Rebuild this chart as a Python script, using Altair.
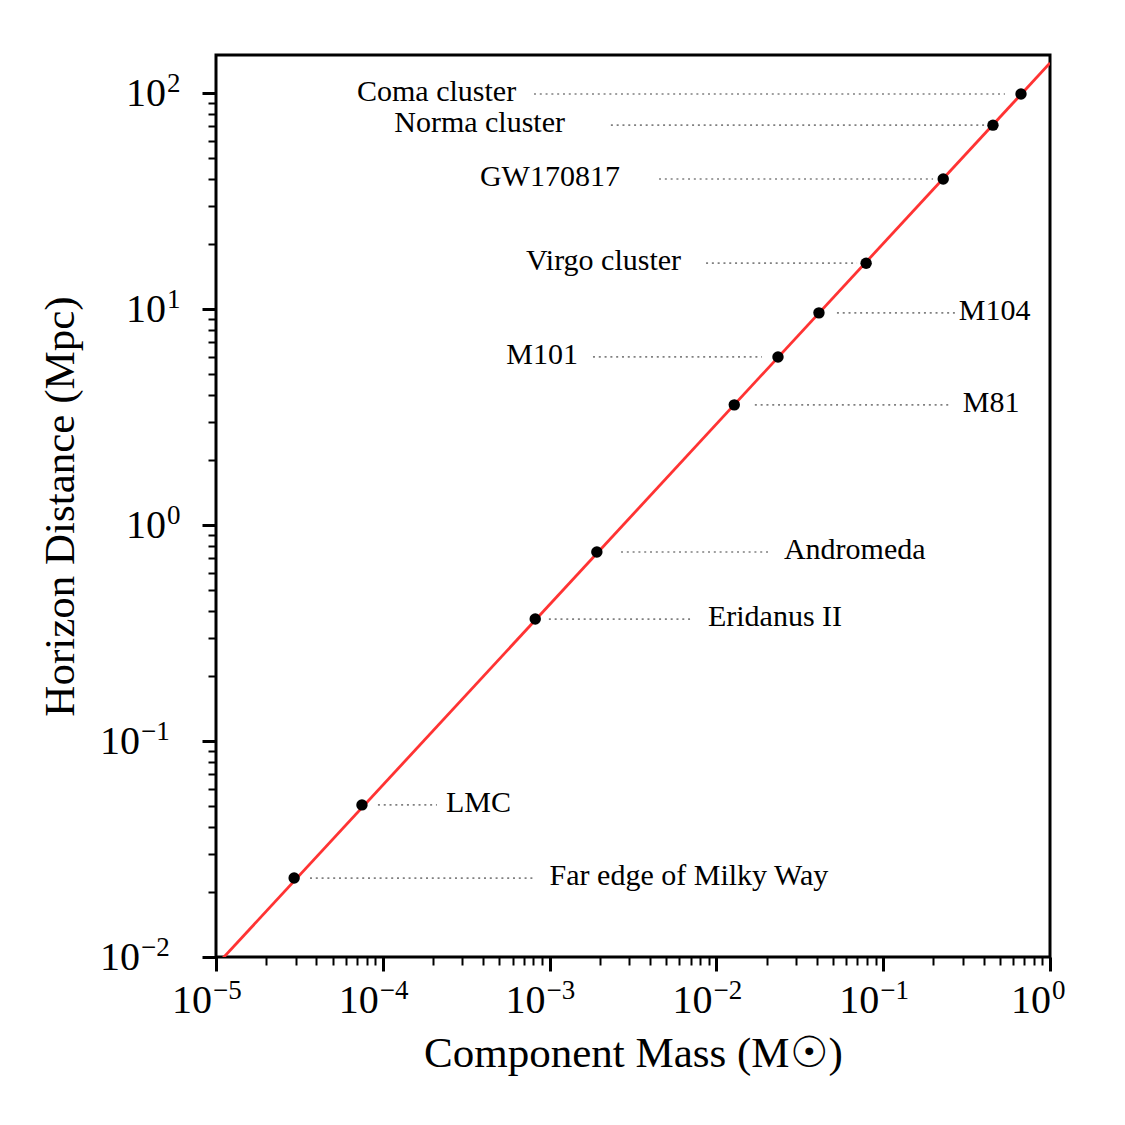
import altair as alt
import pandas as pd

# ---- data ----
names = ["Far edge of Milky Way", "LMC", "Eridanus II", "Andromeda", "M81", "M101",
         "M104", "Virgo cluster", "GW170817", "Norma cluster", "Coma cluster"]
mass = [2.94e-5, 7.5e-5, 8.2e-4, 1.92e-3, 0.0128, 0.0234, 0.0412, 0.079, 0.229, 0.455, 0.670]
dist = [0.0232, 0.0506, 0.367, 0.75, 3.6, 6.0, 9.6, 16.3, 40.0, 71.0, 99.0]
side = ["left", "left", "left", "left", "left", "right", "left", "right", "right", "right", "right"]
label_mass = [1.0e-3, 2.39e-4, 8.9e-3, 0.0254, 0.30, 1.48e-3, 0.284, 6.14e-3, 2.64e-3, 1.237e-3, 6.3e-4]
leader_from = [3.66e-5, 9.35e-5, 9.9e-4, 2.68e-3, 0.0170, 1.82e-3, 0.0528, 8.67e-3, 4.53e-3, 2.33e-3, 8.06e-4]
leader_to = [8.18e-4, 2.11e-4, 6.95e-3, 0.0204, 0.255, 0.01875, 0.269, 0.0697, 0.199, 0.407, 0.537]

line_mass = [1e-5, 1.0]
line_dist = [0.00912, 137.7]

x_tick_exp = [-5, -4, -3, -2, -1, 0]
y_tick_exp = [-2, -1, 0, 1, 2]
x_major = [10.0 ** e for e in x_tick_exp]
y_major = [10.0 ** e for e in y_tick_exp]
x_minor = [k * 10.0 ** d for d in range(-5, 0) for k in range(2, 10)]
y_minor = [k * 10.0 ** d for d in range(-2, 3) for k in range(2, 10) if k * 10.0 ** d <= 150]

x_domain = [1e-5, 1.0]
y_domain = [1e-2, 150.0]

x_title = "Component Mass (M☉)"
y_title = "Horizon Distance (Mpc)"

pts = pd.DataFrame({"name": names, "mass": mass, "dist": dist, "side": side,
                    "lx": label_mass, "a": leader_from, "b": leader_to})
line_df = pd.DataFrame({"mass": line_mass, "dist": line_dist})


def exp_text(e):
    return ("−" if e < 0 else "") + str(abs(e))


xt = pd.DataFrame({"v": x_major, "e": x_tick_exp, "base": "10",
                   "sup": [exp_text(e) for e in x_tick_exp]})
yt = pd.DataFrame({"v": y_major, "e": y_tick_exp, "base": "10",
                   "sup": [exp_text(e) for e in y_tick_exp]})

FONT = "Liberation Serif"
W, H = 834, 902
BASE_FS, SUP_FS = 40, 27

xs = alt.Scale(type="log", domain=x_domain, nice=False)
ys = alt.Scale(type="log", domain=y_domain, nice=False)

minor_common = dict(labels=False, domain=False, grid=False, tickColor="black",
                    tickWidth=2, tickSize=8, title=None)

red_line = alt.Chart(line_df).mark_line(color="#ff3333", strokeWidth=2.8, clip=True).encode(
    x=alt.X("mass:Q", scale=xs, axis=alt.Axis(values=x_minor, orient="bottom", **minor_common)),
    y=alt.Y("dist:Q", scale=ys, axis=alt.Axis(values=y_minor, orient="left", **minor_common)),
)

leaders = alt.Chart(pts).mark_rule(color="#808080", strokeWidth=1.7, strokeDash=[2, 3.8]).encode(
    x=alt.X("a:Q", scale=xs, axis=None),
    x2="b:Q",
    y=alt.Y("dist:Q", scale=ys, axis=None),
)

points = alt.Chart(pts).mark_circle(color="black", opacity=1, size=130).encode(
    x=alt.X("mass:Q", scale=xs, axis=alt.Axis(
        values=x_major, orient="bottom", labels=False, domain=False, grid=False,
        tickColor="black", tickWidth=3, tickSize=14,
        title=x_title, titleFont=FONT, titleFontSize=43, titleFontWeight="normal",
        titleColor="black", titleBaseline="alphabetic", titleX=W / 2, titleY=109)),
    y=alt.Y("dist:Q", scale=ys, axis=alt.Axis(
        values=y_major, orient="left", labels=False, domain=False, grid=False,
        tickColor="black", tickWidth=3, tickSize=14,
        title=y_title, titleFont=FONT, titleFontSize=43, titleFontWeight="normal",
        titleColor="black", titleBaseline="alphabetic", titleX=-143, titleY=H / 2)),
)


def ann(side_name, align):
    return alt.Chart(pts).transform_filter(alt.datum.side == side_name).mark_text(
        align=align, baseline="middle", font=FONT, fontSize=30, color="black", dy=-2
    ).encode(
        x=alt.X("lx:Q", scale=xs, axis=None),
        y=alt.Y("dist:Q", scale=ys, axis=None),
        text="name:N",
    )


text_left = ann("left", "left")
text_right = ann("right", "right")


# ---- tick labels as 10 + raised exponent ----
def x_labels(neg, dx):
    f = (alt.datum.e < 0) if neg else (alt.datum.e >= 0)
    base = alt.Chart(xt).transform_filter(f).mark_text(
        align="right", baseline="alphabetic", font=FONT, fontSize=BASE_FS, color="black", dx=dx
    ).encode(x=alt.X("v:Q", scale=xs, axis=None), y=alt.value(H + 56), text="base:N")
    sup = alt.Chart(xt).transform_filter(f).mark_text(
        align="left", baseline="alphabetic", font=FONT, fontSize=SUP_FS, color="black", dx=dx + 1
    ).encode(x=alt.X("v:Q", scale=xs, axis=None), y=alt.value(H + 42), text="sup:N")
    return [base, sup]


def y_labels(neg, px):
    f = (alt.datum.e < 0) if neg else (alt.datum.e >= 0)
    base = alt.Chart(yt).transform_filter(f).mark_text(
        align="right", baseline="alphabetic", font=FONT, fontSize=BASE_FS, color="black", dy=13
    ).encode(y=alt.Y("v:Q", scale=ys, axis=None), x=alt.value(px), text="base:N")
    sup = alt.Chart(yt).transform_filter(f).mark_text(
        align="left", baseline="alphabetic", font=FONT, fontSize=SUP_FS, color="black", dy=-1
    ).encode(y=alt.Y("v:Q", scale=ys, axis=None), x=alt.value(px + 1), text="sup:N")
    return [base, sup]


tick_layers = x_labels(True, -4) + x_labels(False, 1) + y_labels(True, -76) + y_labels(False, -50)

chart = alt.layer(red_line, leaders, points, text_left, text_right, *tick_layers).resolve_axis(
    x="independent", y="independent"
).properties(
    width=W, height=H,
    autosize=alt.AutoSizeParams(type="none"),
    padding={"left": 208, "top": 47, "right": 60, "bottom": 150},
).configure_view(stroke="black", strokeWidth=3)

chart.save("out.html", embed_options={"renderer": "svg", "actions": False})
